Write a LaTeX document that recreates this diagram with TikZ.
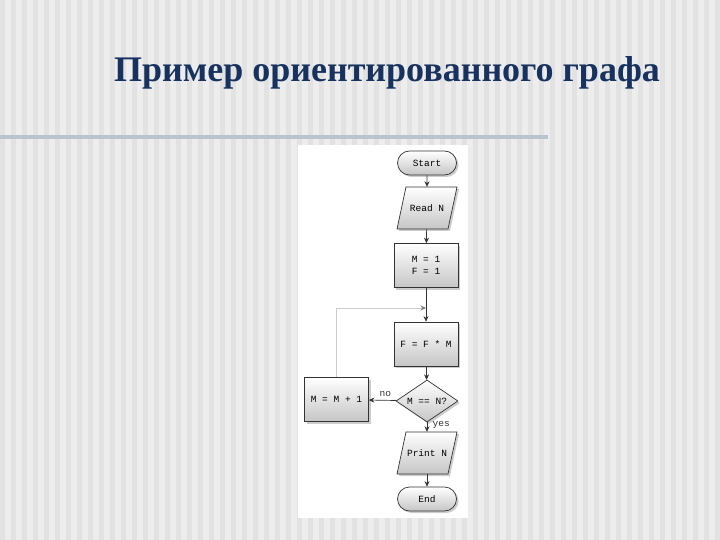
\documentclass[tikz,border=0pt]{standalone}
\usepackage{fontspec}
\setmainfont{Liberation Serif}
\newfontfamily\mono{Liberation Mono}
\usetikzlibrary{shapes.geometric,shapes.misc,shadows,arrows.meta}
\definecolor{titleblue}{HTML}{17325E}
\definecolor{rulecol}{HTML}{B9C4D0}
\definecolor{bgA}{HTML}{EDEDED}
\definecolor{bgB}{HTML}{E2E2E2}
\definecolor{linegray}{HTML}{333333}
\tikzset{
  boxlook/.style={draw=linegray, line width=0.7pt, top color=white, bottom color=gray!45,
    drop shadow={shadow xshift=2pt, shadow yshift=-2pt, opacity=0.4}},
  boxfont/.style={font=\mono\fontsize{9.5}{11.5}\selectfont, align=center, inner sep=1pt},
  box/.style={boxlook, boxfont},
  term/.style={box, rounded rectangle, minimum width=61pt, minimum height=24pt},
  proc/.style={box, rectangle, minimum width=64pt, minimum height=44pt},
  io/.style={boxfont, rectangle, minimum width=60pt, minimum height=42pt},
  dec/.style={box, diamond, aspect=1.45, minimum width=62pt, minimum height=42pt, inner sep=0pt},
  conn/.style={draw=linegray, line width=0.7pt, -{Stealth[length=5.5pt,width=5pt]}},
  lab/.style={font=\mono\fontsize{9.5}{11}\selectfont, text=linegray}
}
\begin{document}
\begin{tikzpicture}[x=1pt,y=-1pt]
\useasboundingbox (0,0) rectangle (720,540);
% background stripes
\fill[bgA] (0,0) rectangle (720,540);
\foreach \i in {0,...,65} {
  \fill[bgB] ({\i*11},0) rectangle ({\i*11+5},540);
}
% title
\node[text=titleblue, font=\bfseries\fontsize{36}{40}\selectfont] (title) at (387,73) {Пример ориентированного графа};
% rule
\fill[rulecol] (0,135) rectangle (548,139.5);
% white panel
\fill[white] (298,145) rectangle (468,518);
% parallelogram outlines
\path[boxlook] (406,187) -- (457,187) -- (448,229) -- (397,229) -- cycle;
\path[boxlook] (406,432) -- (457,432) -- (448,474) -- (397,474) -- cycle;
% flowchart
\node[term] (start) at (427,163) {Start};
\node[io] (read) at (427,208) {Read N};
\node[proc] (init) at (426,265.5) {M = 1\\F = 1};
\node[proc] (mult) at (426,344) {F = F * M};
\node[dec] (test) at (427,401) {M == N?};
\node[proc] (inc) at (336.5,399.5) {M = M + 1};
\node[io] (print) at (427,453) {Print N};
\node[term] (end) at (427,499) {End};
\coordinate (join) at (426,308);
\draw[conn] (start) -- (read);
\draw[conn] (read) -- (init);
\draw[conn] (init) -- (mult);
\draw[conn] (mult) -- (test);
\draw[conn] (test) -- node[lab, above, pos=0.4] {no} (inc);
\draw[conn] (test) -- node[lab, right, pos=0.3, xshift=2pt] {yes} (print);
\draw[conn] (print) -- (end);
\draw[draw=gray!40, line width=0.7pt, -{Stealth[length=5.5pt,width=5pt,gray]}] (inc.north) |- (join);
\end{tikzpicture}
\end{document}
